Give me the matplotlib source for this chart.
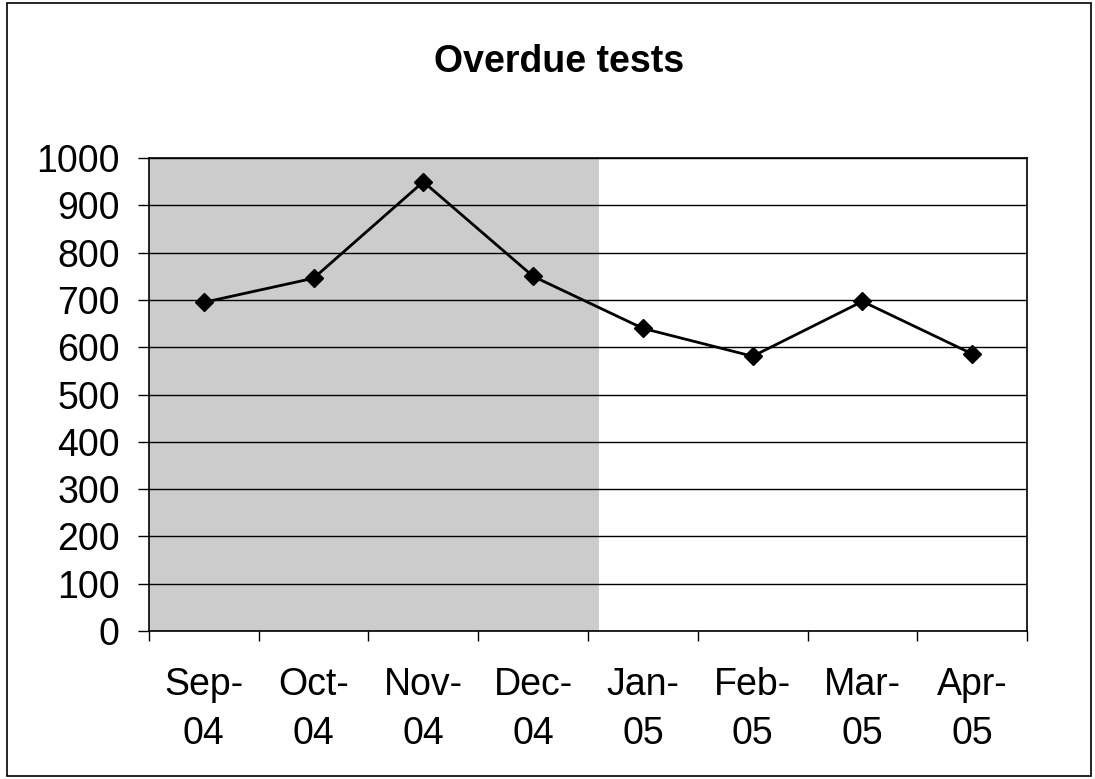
import matplotlib.pyplot as plt
from matplotlib.patches import Rectangle

months = ["Sep-\n04", "Oct-\n04", "Nov-\n04", "Dec-\n04",
          "Jan-\n05", "Feb-\n05", "Mar-\n05", "Apr-\n05"]
overdue = [695, 746, 950, 750, 640, 581, 697, 586]
y_ticks = [0, 100, 200, 300, 400, 500, 600, 700, 800, 900, 1000]

plt.rcParams['font.family'] = ['Liberation Sans', 'DejaVu Sans']

fig = plt.figure(figsize=(10.95, 7.79), dpi=100)
ax = fig.add_axes([0.136, 0.190, 0.802, 0.607])

# scanned grey plot area, only the left part survived
ax.axvspan(-0.5, 3.6, color='0.8', zorder=0, lw=0)

x = list(range(len(months)))
ax.plot(x, overdue, color='black', lw=2, marker='D', markersize=9.5, zorder=3)

ax.set_xlim(-0.5, len(months) - 0.5)
ax.set_ylim(0, 1000)
ax.set_yticks(y_ticks)
ax.yaxis.grid(True, color='black', lw=1)
ax.set_axisbelow(True)

ax.set_xticks([i - 0.5 for i in range(len(months) + 1)])
ax.set_xticklabels([])
ax.set_xticks(x, minor=True)
ax.set_xticklabels(months, minor=True, fontsize=27, linespacing=1.45)
ax.tick_params(axis='x', which='minor', length=0, pad=26)
ax.tick_params(axis='x', which='major', length=7, width=1, direction='out')
ax.tick_params(axis='y', length=8, width=1, labelsize=27, pad=13)

for s in ax.spines.values():
    s.set_linewidth(1.2)

fig.text(0.511, 0.921, "Overdue tests", ha='center', va='center',
         fontsize=27, fontweight='bold')

fig.patches.append(Rectangle((0.006, 0.004), 0.99, 0.992, transform=fig.transFigure,
                             fill=False, edgecolor='black', lw=1.2))

fig.savefig("out.png", dpi=100)
